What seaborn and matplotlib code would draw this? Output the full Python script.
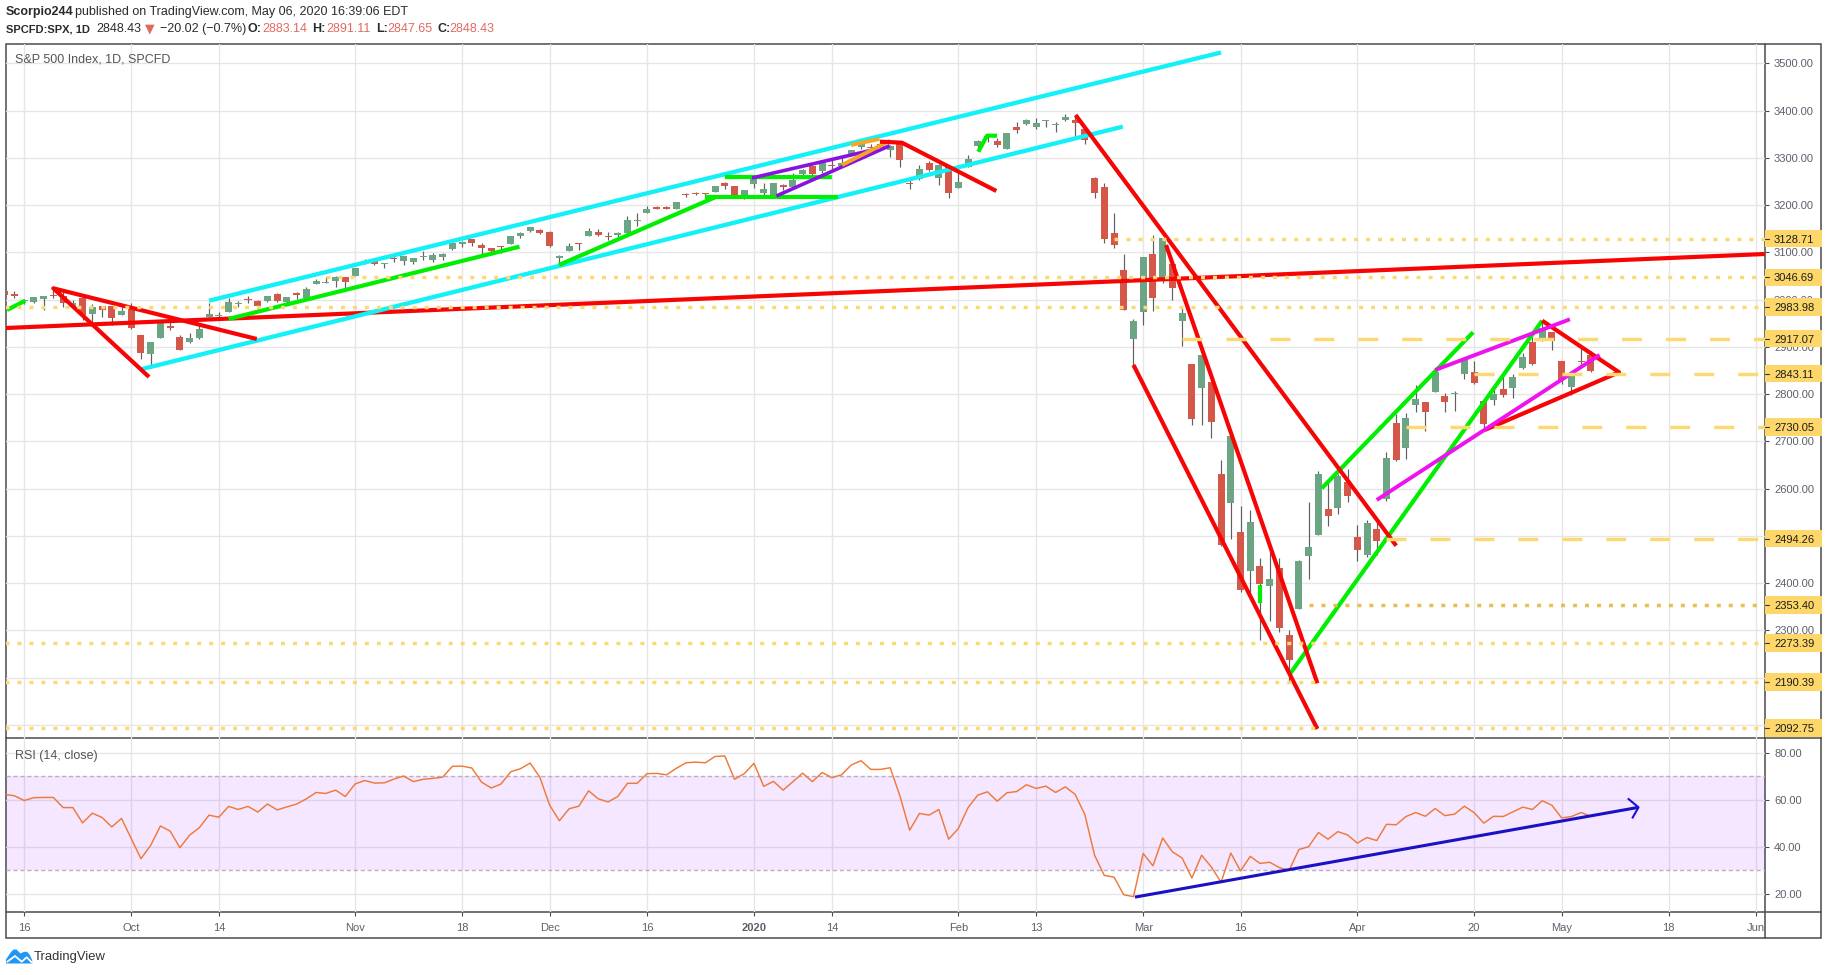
import matplotlib
matplotlib.use("Agg")
import matplotlib.pyplot as plt
from matplotlib.patches import Rectangle, Polygon
from matplotlib.transforms import blended_transform_factory as blend
import numpy as np
import pandas as pd
import seaborn as sns

# ---------- data (bar index 0 = 16 Sep 2019) ----------
first_bar = -2
opens = [3018.6,3012.2,2996.4,2995.7,3001.5,3010.4,3008.4,2983.5,3002.4,2968.4,2985.7,2985.5,2967.1,2983.7,2924.8,2885.4,2918.6,2944.2,2920.4,2911.1,2918.6,2963.1,2965.8,2973.6,2989.7,3000.8,2996.8,2996.5,3010.7,2994.0,3014.8,3003.3,3032.1,3035.4,3039.7,3046.9,3050.7,
3079.0,3080.8,3075.1,3087.0,3081.3,3080.3,3089.3,3084.2,3090.8,3107.9,3117.9,3127.5,3114.7,3108.5,3111.4,3117.4,3134.9,3145.5,3147.2,3143.9,3087.4,3103.5,3119.2,3134.6,3141.9,3135.4,3135.8,3141.2,3166.7,3183.6,3195.4,3195.2,3192.3,3223.3,3226.1,3225.5,3227.2,3247.2,3240.1,3215.2,
3244.7,3226.4,3217.6,3241.9,3238.6,3266.0,3281.8,3271.1,3285.4,3282.3,3303.0,3323.7,3321.0,3330.0,3315.8,3333.1,3247.2,3255.4,3289.5,3256.5,3282.3,3235.7,3280.6,3324.9,3344.9,3335.5,3318.3,3365.9,3370.5,3365.9,3378.1,3369.0,3380.4,3380.5,3360.5,3257.6,3238.9,3139.9,3062.5,2916.9,
2974.3,3096.5,3045.8,3075.7,2954.2,2863.9,2813.5,2825.6,2630.9,2570.0,2508.6,2425.7,2436.5,2393.5,2431.9,2290.7,2344.4,2457.8,2501.3,2555.9,2559.0,2614.7,2498.1,2458.5,2514.9,2578.3,2738.7,2685.0,2777.0,2782.5,2805.1,2795.6,2799.3,2842.4,2845.6,2784.8,2787.9,2810.4,2812.6,2854.7,2910.0,2918.5,2930.9,2869.1,2815.0,2868.9,2883.14]
highs = [3020.0,3017.3,3002.2,3006.2,3007.8,3021.2,3016.4,2999.2,3008.0,2989.8,2987.3,2987.3,2983.9,2992.5,2924.8,2911.1,2952.9,2959.8,2925.5,2929.3,2948.5,2993.3,2972.8,3003.3,2997.5,3008.3,3000.0,3007.3,3014.6,3005.3,3016.1,3027.4,3044.1,3047.9,3050.1,3046.9,3067.0,
3085.2,3084.0,3078.3,3097.8,3093.1,3088.3,3102.6,3098.1,3098.2,3120.5,3124.2,3127.6,3119.0,3110.1,3112.9,3133.8,3142.7,3154.3,3150.3,3144.3,3095.0,3119.4,3119.5,3150.6,3148.9,3142.1,3144.0,3176.3,3182.7,3197.7,3198.2,3198.5,3205.5,3225.7,3227.8,3226.4,3240.1,3247.9,3240.9,3231.7,
3258.1,3246.2,3246.8,3244.9,3267.1,3275.6,3283.0,3288.1,3294.3,3298.7,3317.1,3329.9,3329.8,3337.8,3326.9,3333.2,3258.9,3285.8,3293.5,3285.9,3282.3,3268.4,3306.9,3337.6,3348.0,3341.4,3352.3,3375.6,3381.5,3385.1,3380.7,3375.0,3393.5,3389.2,3360.8,3259.8,3247.0,3182.5,3097.1,2959.7,
3091.0,3136.7,3131.0,3083.0,2985.9,2863.9,2882.6,2825.6,2661.0,2711.3,2563.0,2553.9,2453.6,2467.0,2453.0,2300.7,2449.7,2571.4,2637.0,2615.9,2631.8,2641.4,2522.8,2533.2,2538.2,2676.9,2756.9,2760.8,2818.6,2782.5,2851.9,2801.9,2806.5,2879.2,2869.0,2785.5,2815.1,2844.9,2842.7,2887.7,2921.2,2954.9,2930.9,2869.1,2844.2,2898.2,2891.11]
lows = [3005.0,3002.9,2990.7,2993.7,2978.6,3003.2,2984.7,2982.2,2957.7,2952.9,2963.7,2945.5,2967.1,2938.7,2874.9,2855.9,2918.6,2935.7,2892.7,2907.4,2917.1,2963.1,2962.9,2973.6,2985.2,2991.8,2976.3,2995.4,2995.0,2991.3,3000.4,3001.9,3032.1,3034.8,3026.0,3023.2,3050.7,
3074.9,3072.2,3065.9,3080.2,3073.6,3075.8,3084.7,3078.8,3083.3,3104.6,3112.1,3113.5,3091.4,3094.6,3099.3,3117.4,3131.0,3143.4,3139.3,3110.8,3070.3,3102.5,3103.8,3134.6,3135.5,3126.1,3133.2,3138.5,3156.5,3183.6,3191.0,3191.1,3192.3,3216.0,3222.3,3220.5,3227.2,3234.4,3216.6,3212.0,
3235.5,3222.3,3214.6,3232.4,3236.7,3263.7,3260.9,3268.4,3277.2,3280.7,3302.8,3318.9,3316.6,3320.0,3301.9,3281.5,3234.5,3253.2,3271.9,3242.8,3214.7,3235.7,3280.6,3313.8,3334.4,3322.1,3317.8,3352.7,3369.7,3360.5,3366.2,3355.6,3378.8,3341.0,3328.5,3214.7,3118.8,3109.0,2977.4,2855.8,
2945.2,2976.6,3034.4,2999.8,2901.5,2734.4,2734.0,2707.2,2478.9,2492.4,2380.9,2367.0,2280.5,2319.8,2295.6,2191.9,2344.4,2407.5,2500.7,2520.0,2545.3,2571.2,2447.5,2455.8,2460.0,2574.6,2657.7,2663.3,2762.4,2721.2,2805.1,2761.5,2764.3,2830.9,2820.4,2727.1,2776.0,2794.3,2791.8,2852.9,2860.7,2912.2,2892.5,2821.6,2797.9,2863.6,2847.65]
closes = [3009.6,3007.4,2998.0,3005.7,3006.7,3006.8,2992.1,2991.8,2966.6,2984.9,2977.6,2961.8,2976.7,2940.3,2887.6,2910.6,2952.0,2938.8,2893.1,2919.4,2938.1,2970.3,2966.2,2995.7,2989.7,2998.0,2986.2,3006.7,2996.0,3004.5,3010.3,3022.6,3039.4,3036.9,3046.8,3037.6,3066.9,
3078.3,3074.6,3076.8,3085.2,3093.1,3087.0,3091.8,3094.0,3096.6,3120.5,3122.0,3120.2,3108.5,3103.5,3110.3,3133.6,3140.5,3153.6,3141.0,3113.9,3093.2,3112.8,3117.4,3145.9,3136.0,3132.5,3141.6,3168.6,3168.8,3191.5,3192.5,3191.1,3205.4,3221.2,3224.0,3223.4,3239.9,3240.0,3221.3,3230.8,
3257.9,3234.9,3246.3,3237.2,3253.1,3274.7,3265.4,3288.1,3283.2,3289.3,3316.8,3329.6,3320.8,3321.8,3325.5,3295.5,3243.6,3276.2,3273.4,3283.7,3225.5,3248.9,3297.6,3334.7,3345.8,3327.7,3352.1,3357.8,3379.5,3373.9,3380.2,3370.3,3386.2,3373.2,3337.8,3225.9,3128.2,3116.4,2978.8,2954.2,
3090.2,3003.4,3130.1,3023.9,2972.4,2746.6,2882.2,2741.4,2480.6,2711.0,2386.1,2529.2,2398.1,2409.4,2304.9,2237.4,2447.3,2475.6,2630.1,2541.5,2626.7,2584.6,2470.5,2526.9,2488.7,2663.7,2659.4,2750.0,2789.8,2761.6,2846.1,2783.4,2799.6,2874.6,2823.2,2736.6,2799.3,2797.8,2836.7,2878.5,2863.4,2939.5,2912.4,2830.7,2842.7,2868.4,2848.43]
rsi = [62.3,61.7,59.7,60.9,61.0,61.0,56.7,56.7,50.2,54.3,
52.5,48.5,52.1,43.5,35.0,40.7,48.9,46.7,39.7,45.0,
48.2,53.5,52.6,57.2,55.9,57.2,54.8,58.2,55.7,57.0,
58.2,60.4,63.1,62.7,64.1,61.4,66.7,68.2,67.1,67.2,
68.8,70.1,67.7,68.7,69.1,69.6,74.2,74.3,73.5,67.5,
65.0,66.7,71.9,73.2,75.6,69.5,57.7,51.1,56.2,57.3,
63.8,60.4,59.1,61.4,67.0,67.0,71.1,71.2,70.6,73.3,
75.7,76.0,75.7,78.4,78.6,68.7,71.1,75.5,65.7,67.8,
64.1,67.7,71.3,67.7,71.6,69.4,70.6,74.8,76.6,72.9,72.9,73.6,
61.6,47.1,54.2,53.5,55.9,43.3,47.8,56.7,62.0,63.4,59.4,63.0,63.5,66.4,64.8,65.8,63.1,65.5,62.3,53.8,
36.5,27.9,27.2,19.7,18.9,37.2,32.0,43.8,37.9,35.3,
26.8,36.5,31.5,25.0,37.4,29.8,36.0,33.0,33.5,31.2,
30.1,38.9,40.1,46.1,43.3,46.5,45.1,41.6,44.0,42.7,
49.6,49.4,52.9,54.6,53.0,56.3,53.3,53.9,57.3,54.6,
50.1,53.0,52.9,54.9,56.9,55.9,59.6,57.7,52.3,52.9,54.6,53.0]

time_ticks = [0,11,20,34,45,54,64,75,83,96,104,115,125,137,149,158,169,178]
time_labels = ["16","Oct","14","Nov","18","Dec","16","2020","14","Feb","13","Mar","16","Apr","20","May","18","Jun"]
price_ticks = list(range(2100,3501,100))
hidden_price_labels = [2100, 2200]
rsi_ticks = [20,40,60,80]
level_values = [3128.71,3046.69,2983.98,2917.07,2843.11,2730.05,2494.26,2353.40,2273.39,2190.39,2092.75]
level_starts = [112,31,-2,119,149,142,140,132,-2,-2,-2]
level_kinds = ["dot","dot","dot","dash","dash","dash","dash","dot","dot","dot","dot"]

# trend lines as (bar index, price) vertices
red_lines = [
 [(-1.87,2939.8),(178.9,3096.4)],
 [(12.83,2836.1),(2.99,3023.8),(23.9,2916.5)],
 [(87.95,3334.1),(90.2,3332.0),(99.9,3229.8)],
 [(108.05,3390.6),(141.0,2479.0)],
 [(117.35,3115.5),(132.9,2187.9)],
 [(114.0,2861.5),(132.9,2091.2)],
 [(156.0,2955.3),(163.9,2846.1),(150.1,2723.9)],
]
cyan_lines = [[(12.0,2852.4),(112.9,3365.9)],[(19.0,2997.6),(123.0,3522.9)]]
green_lines = [
 [(-1.77,2977.9),(0.11,2997.6)],
 [(21.0,2958.9),(50.9,3111.9)],
 [(54.96,3073.2),(71.0,3216.4)],
 [(70.0,3217.7),(83.6,3217.7)],
 [(72.0,3259.4),(83.0,3259.0)],
 [(98.05,3312.9),(98.95,3346.8),(99.98,3346.8)],
 [(130.0,2205.4),(156.0,2955.3)],
 [(133.35,2600.5),(148.9,2930.7)],
 [(127.0,2395.9),(127.0,2357.8)],
]
purple_lines = [[(74.8,3257.3),(87.65,3318.7)],[(77.3,3219.2),(88.95,3325.6)]]
orange_lines = [[(84.97,3327.1),(87.9,3339.8)],[(84.05,3284.8),(89.0,3336.2)]]
magenta_lines = [[(139.0,2575.8),(161.9,2882.7)],[(145.0,2850.9),(158.85,2958.2)]]
blue_line = [(114.15,18.7),(165.9,56.8)]
blue_head = [(164.8,60.6),(165.9,56.8),(165.25,52.1)]

# ---------- style ----------
sns.set_theme(style="white")
plt.rcParams["font.family"] = ["Liberation Sans", "DejaVu Sans"]
W, H = 1828, 975
fig = plt.figure(figsize=(W/100, H/100), dpi=100, facecolor="white")
FR = "#4a4a4a"; GRID = "#e6e6e6"; TXT = "#5d606b"
UP = "#6ba583"; DN = "#d4574a"; WICK = "#5f5f5f"; YEL = "#fbd973"

L, R, T, M, B = 6, 1765, 43.5, 738.3, 911.5
def rect(top, bottom):
    return [L/W, 1-bottom/H, (R-L)/W, (bottom-top)/H]

ov = fig.add_axes([0,0,1,1], zorder=0); ov.set_xlim(0,W); ov.set_ylim(H,0); ov.axis("off")
ax = fig.add_axes(rect(T,M), zorder=2, facecolor="none")
ax2 = fig.add_axes(rect(M,B), zorder=2, facecolor="none")

idx = np.arange(first_bar, first_bar+len(closes))
df = pd.DataFrame(dict(i=idx, o=opens, h=highs, l=lows, c=closes))
XLIM = (-1.87, 178.9)

# candles
ax.set_xlim(*XLIM); ax.set_ylim(2071.4, 3541.9)
up = df[df.c >= df.o]; dn = df[df.c < df.o]
ax.vlines(df.i, df.l, df.h, color=WICK, lw=0.85, zorder=3)
ax.bar(up.i, (up.c-up.o).clip(lower=2), bottom=up.o, width=0.72, color=UP, lw=0, zorder=4)
ax.bar(dn.i, (dn.o-dn.c).clip(lower=2), bottom=dn.c, width=0.72, color=DN, lw=0, zorder=4)

def draw(lines, color, lw, a=ax, z=6):
    for pts in lines:
        xs, ys = zip(*pts)
        a.plot(xs, ys, color=color, lw=lw, zorder=z, solid_capstyle="butt", solid_joinstyle="round")

draw(red_lines[:1], "#f70505", 3.0, z=5)
draw(cyan_lines, "#12f0f8", 3.1, z=5)
draw(green_lines, "#00ee00", 3.0)
draw(purple_lines, "#8a12e0", 2.6)
draw(orange_lines, "#f5a623", 2.8)
draw(red_lines[1:], "#f70505", 3.0)
draw(magenta_lines, "#ee12ee", 2.8)

# levels and right-hand price labels
tb = blend(ax.transAxes, ax.transData)
bw = 56.5/(R-L)
for v, s, k in zip(level_values, level_starts, level_kinds):
    col = "#e8bf52" if v == 2353.40 else YEL
    pat = (0,(1.15,2.3)) if k == "dot" else (0,(5.76,6.9))
    ax.plot([s, XLIM[1]], [v, v], color=col, lw=2.5, ls=pat, zorder=7, dash_capstyle="butt")
    ax.add_patch(Rectangle((1.0, v-18.5), bw, 37, transform=tb, clip_on=False, fc="#fdd769", ec="none", zorder=8))
    ax.plot([1.0, 1+4/(R-L)], [v, v], transform=tb, clip_on=False, color="#333333", lw=0.8, zorder=9)
    ax.text(1+9/(R-L), v, f"{v:.2f}", transform=tb, va="center_baseline", ha="left", fontsize=8, color="#1c1c1c", zorder=9, clip_on=False)

ax.set_xticks(time_ticks); ax.set_xticklabels([])
ax.set_yticks(price_ticks)
ax.set_yticklabels(["" if p in hidden_price_labels else f"{p:.2f}" for p in price_ticks])
ax.yaxis.tick_right()
ax.tick_params(axis="y", length=2.9, width=0.8, color=FR, pad=3.6, labelsize=8, labelcolor=TXT, right=True)
ax.tick_params(axis="x", length=0)
ax.grid(True, color=GRID, lw=1.0, zorder=1); ax.set_axisbelow(True)
ax.text(15, 60, "S&P 500 Index, 1D, SPCFD", transform=ov.transData, fontsize=9, color="#555555", va="center", zorder=9)

# RSI
ax2.set_xlim(*XLIM); ax2.set_ylim(12.6, 86.1)
ax2.axhspan(30, 70, color="#9915ff", alpha=0.10, lw=0, zorder=1)
for lv in (30, 70):
    ax2.axhline(lv, color="#b9aec6", lw=1, ls=(0,(3,2)), zorder=2)
rsi_df = pd.DataFrame(dict(bar=np.arange(first_bar, first_bar+len(rsi)), rsi=rsi))
sns.lineplot(data=rsi_df, x="bar", y="rsi", ax=ax2, color="#f0793a", lw=1.05, estimator=None, zorder=5)
ax2.set_xlabel(""); ax2.set_ylabel("")
draw([blue_line], "#1a10c4", 2.2, a=ax2, z=6)
draw([blue_head], "#1a10e0", 1.5, a=ax2, z=6)
ax2.set_xticks(time_ticks); ax2.set_xticklabels(time_labels)
for lab, t in zip(ax2.get_xticklabels(), time_labels):
    if t == "2020":
        lab.set_fontweight("bold")
ax2.set_yticks(rsi_ticks); ax2.set_yticklabels([f"{v:.2f}" for v in rsi_ticks])
ax2.yaxis.tick_right()
ax2.tick_params(axis="y", length=2.9, width=0.8, color=FR, pad=3.6, labelsize=8, labelcolor=TXT, right=True)
ax2.tick_params(axis="x", length=2.9, width=0.8, color=FR, pad=5.5, labelsize=8, labelcolor=TXT, bottom=True)
ax2.grid(True, color=GRID, lw=1.0); ax2.set_axisbelow(True)
ax2.text(15, 756, "RSI (14, close)", transform=ov.transData, fontsize=9, color="#555555", va="center", zorder=9)

for a in (ax, ax2):
    for s in a.spines.values():
        s.set_visible(False)

# frame
ov.add_patch(Rectangle((L,T), 1821-L, 938-T, fc="white", ec=FR, lw=1.1))
ov.plot([R,R],[T,938], color=FR, lw=1.1)
ov.plot([L,1821],[B,B], color=FR, lw=1.1)
ov.plot([L,1821],[M,M], color=FR, lw=1.1)

# header
hy1, hy2 = 12.5, 29
DK = "#2b2b2b"; RD = "#e06a60"
ov.text(6, hy1, "Scorpio244", fontsize=9, fontweight="bold", color=DK, va="center")
ov.text(75, hy1, "published on TradingView.com, May 06, 2020 16:39:06 EDT", fontsize=9, color=DK, va="center")
ov.text(6, hy2, "SPCFD:SPX, 1D", fontsize=8, fontweight="bold", color=DK, va="center")
ov.text(96.5, hy2, "2848.43", fontsize=9, color=DK, va="center")
ov.text(145, hy2, "▼", fontsize=9, color=RD, va="center", family="DejaVu Sans")
ov.text(159.5, hy2, "\u221220.02 (\u22120.7%)", fontsize=9, color=DK, va="center")
for x, s, vx, v in [(248,"O:",262,"2883.14"),(312.5,"H:",326,"2891.11"),(376,"L:",387,"2847.65"),(437,"C:",449.5,"2848.43")]:
    ov.text(x, hy2, s, fontsize=9, fontweight="bold", color=DK, va="center")
    ov.text(vx, hy2, v, fontsize=9, color=RD, va="center")

# logo
ov.add_patch(Polygon([(6,963.5),(6,959.5),(11,952),(13.5,949.5),(16.5,949.5),(20.5,953.5),(24,951.8),(27,951.8),(29.5,954.5),(32.2,960),(32.2,963.5)],
                     closed=True, fc="#2196f3", ec="none"))
ov.plot([7.3,15,21.7,26.7,31.7],[961.7,956,961.7,957.3,962.3], color="white", lw=1.3)
ov.text(34, 956.7, "TradingView", fontsize=9.4, color="#333333", va="center")

fig.savefig("out.png", dpi=100, facecolor="white")
